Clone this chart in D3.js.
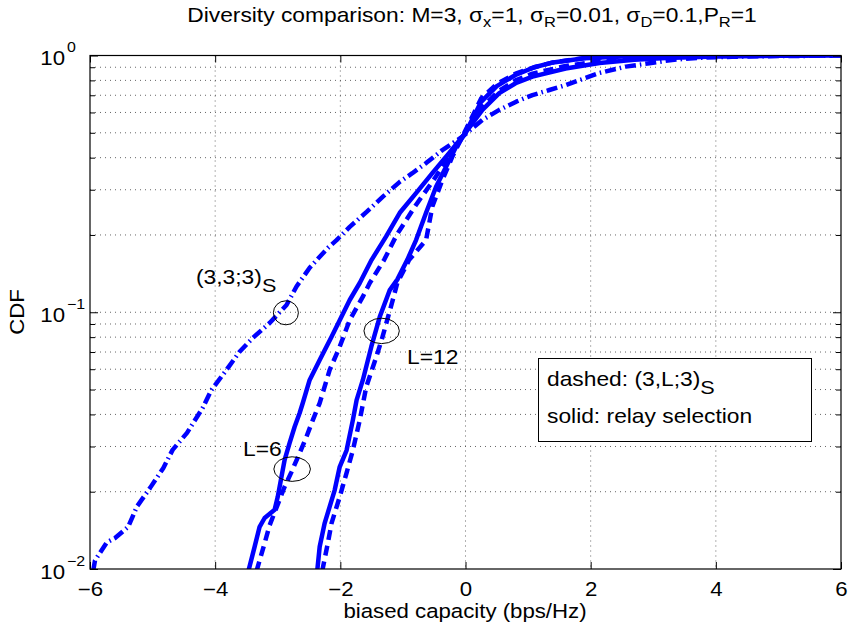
<!DOCTYPE html>
<html>
<head>
<meta charset="utf-8">
<script src="https://cdn.jsdelivr.net/npm/d3@7"></script>
<style>
  body { margin: 0; background: #fff; }
  svg { font-family: "Liberation Sans", Arial, Helvetica, sans-serif; }
</style>
</head>
<body>
<svg id="chart" width="851" height="630"></svg>
<script>
// ---- Data ----
const xTicks = [-6, -4, -2, 0, 2, 4, 6];
const yDecades = [0.01, 0.1, 1];
const yDecadeExp = ["\u22122", "\u22121", "0"];

// (3,3;3)_S  dash-dot
const s333X = [-5.95,-5.92,-5.73,-5.60,-5.39,-5.25,-5.04,-4.83,-4.68,-4.45,-4.20,-4.06,-3.82,-3.61,-3.40,-3.13,-2.86,-2.70,-2.49,-2.20,-2.06,-1.85,-1.58,-1.32,-1.05,-0.85,-0.63,-0.37,-0.05,0.27,0.54,0.81,1.07,1.34,1.61,1.87,2.14,2.56,2.94,3.30,3.73,4.26,5.0,5.86];
const s333Y = [0.0098,0.0108,0.0127,0.0132,0.0146,0.0175,0.0207,0.0247,0.0291,0.0339,0.0424,0.0498,0.0596,0.0702,0.0794,0.0908,0.1067,0.126,0.149,0.178,0.191,0.215,0.246,0.282,0.322,0.348,0.381,0.428,0.483,0.561,0.614,0.661,0.701,0.734,0.768,0.810,0.855,0.905,0.933,0.961,0.980,0.989,0.995,0.998];

// L=6 relay selection (solid)
const l6SolidX = [-3.47,-3.37,-3.29,-3.21,-3.05,-3.0,-2.94,-2.89,-2.81,-2.73,-2.65,-2.60,-2.49,-2.33,-2.14,-1.98,-1.85,-1.69,-1.5,-1.27,-1.05,-0.79,-0.53,-0.26,0.0,0.27,0.54,0.8,1.07,1.6,2.14,2.7,3.2,4.0,5.0,6.0];
const l6SolidY = [0.0098,0.0122,0.0146,0.0158,0.0170,0.0191,0.0229,0.0266,0.031,0.0358,0.0405,0.0443,0.0545,0.0652,0.0803,0.0962,0.1116,0.130,0.16,0.197,0.244,0.291,0.348,0.417,0.5,0.614,0.714,0.78,0.827,0.89,0.935,0.962,0.978,0.992,0.998,1.0];

// L=6 (3,L;3)_S (dashed)
const l6DashX = [-3.34,-3.21,-3.13,-2.89,-2.78,-2.65,-2.54,-2.44,-2.33,-2.17,-2.01,-1.85,-1.64,-1.53,-1.3,-1.1,-0.8,-0.5,-0.25,0.0,0.27,0.54,0.8,1.07,1.6,2.14,2.7,3.2,4.0,5.0,6.0];
const l6DashY = [0.0098,0.0126,0.0148,0.0209,0.0239,0.0283,0.0328,0.038,0.0443,0.0596,0.0734,0.0933,0.115,0.130,0.16,0.2,0.26,0.33,0.41,0.5,0.63,0.73,0.8,0.85,0.91,0.95,0.975,0.988,0.996,0.999,1.0];

// L=12 relay selection (solid)
const l12SolidX = [-2.37,-2.33,-2.25,-2.17,-2.09,-2.01,-1.90,-1.80,-1.74,-1.64,-1.505,-1.37,-1.21,-1.09,-0.93,-0.79,-0.63,-0.47,-0.31,-0.15,0.0,0.25,0.5,0.8,1.1,1.4,1.9,2.6,3.5,4.5];
const l12SolidY = [0.0098,0.0122,0.0151,0.0175,0.0203,0.025,0.029,0.038,0.0455,0.0545,0.0734,0.096,0.122,0.134,0.16,0.191,0.244,0.308,0.369,0.441,0.5,0.66,0.76,0.84,0.9,0.94,0.975,0.993,0.999,1.0];

// L=12 (3,L;3)_S (dashed)
const l12DashX = [-2.29,-2.20,-2.14,-2.01,-1.90,-1.80,-1.69,-1.585,-1.425,-1.325,-1.165,-1.09,-0.9,-0.63,-0.53,-0.37,-0.21,-0.05,0.25,0.5,0.8,1.1,1.4,1.9,2.7,3.5,4.5];
const l12DashY = [0.0098,0.0126,0.0151,0.0191,0.0237,0.029,0.038,0.0513,0.067,0.0803,0.111,0.130,0.16,0.191,0.258,0.327,0.404,0.483,0.68,0.775,0.85,0.9,0.94,0.978,0.995,0.999,1.0];

const series = [
  { x: s333X, y: s333Y, dash: "11,4,1.5,4" },
  { x: l6DashX, y: l6DashY, dash: "10,6" },
  { x: l12DashX, y: l12DashY, dash: "10,6" },
  { x: l6SolidX, y: l6SolidY, dash: null },
  { x: l12SolidX, y: l12SolidY, dash: null }
];

const ellipses = [
  { cx: -2.87, cy: 0.0995, rx: 12.5, ry: 12 },
  { cx: -1.34, cy: 0.0846, rx: 17.7, ry: 12.7 },
  { cx: -2.77, cy: 0.0245, rx: 18.3, ry: 12.3 }
];

// ---- Layout ----
const svg = d3.select("#chart");
const L = 90, R = 841, T = 55.5, B = 569;
const SX = 1.14; // horizontal stretch of the reference's lettering
const x = d3.scaleLinear().domain([-6, 6]).range([L, R]);
const y = d3.scaleLog().domain([0.01, 1]).range([B, T]);

const yMinor = [];
[0.01, 0.1].forEach(d => { for (let k = 2; k <= 9; k++) yMinor.push(d * k); });

function label(px, py, size, anchor, rotate) {
  const g = svg.append("g").attr("transform", `translate(${px},${py})` + (rotate ? ` rotate(${rotate})` : ""));
  return g.append("text").attr("transform", `scale(${SX},1)`).attr("text-anchor", anchor || "start")
    .attr("font-size", size).attr("fill", "#000");
}

// Grid
const grid = svg.append("g").attr("stroke", "#000").attr("stroke-width", 0.8)
  .attr("stroke-dasharray", "1,4").attr("opacity", 0.75);
xTicks.slice(1, -1).forEach(v => {
  grid.append("line").attr("x1", x(v)).attr("x2", x(v)).attr("y1", T).attr("y2", B);
});
yDecades.slice(1, -1).concat(yMinor).forEach(v => {
  grid.append("line").attr("x1", L).attr("x2", R).attr("y1", y(v)).attr("y2", y(v));
});

// Clip
svg.append("clipPath").attr("id", "clip").append("rect")
  .attr("x", L).attr("y", T).attr("width", R - L).attr("height", B - T);

const line = d3.line().x(d => x(d[0])).y(d => y(d[1]));
const curves = svg.append("g").attr("clip-path", "url(#clip)");
series.forEach(s => {
  const pts = s.x.map((v, i) => [v, s.y[i]]);
  curves.append("path").datum(pts).attr("d", line)
    .attr("fill", "none").attr("stroke", "#0000ff")
    .attr("stroke-width", 4.5)
    .attr("stroke-linejoin", "round")
    .attr("stroke-dasharray", s.dash);
});

// Axes box
svg.append("rect").attr("x", L).attr("y", T).attr("width", R - L).attr("height", B - T)
  .attr("fill", "none").attr("stroke", "#000").attr("stroke-width", 1.2);

// x ticks
const xAxisB = d3.axisBottom(x).tickValues(xTicks).tickSize(-7).tickPadding(13)
  .tickFormat(d => d < 0 ? "\u2212" + Math.abs(d) : d);
const gx = svg.append("g").attr("transform", `translate(0,${B})`).call(xAxisB);
gx.select(".domain").remove();
gx.selectAll("text").attr("font-size", 19.5).attr("fill", "#000")
  .attr("font-family", "Liberation Sans, Arial, sans-serif")
  .attr("transform", `scale(${SX},1)`);
const gxt = svg.append("g").attr("transform", `translate(0,${T})`)
  .call(d3.axisTop(x).tickValues(xTicks).tickSize(-7).tickFormat(""));
gxt.select(".domain").remove();

// y ticks left/right
[[L, d3.axisLeft], [R, d3.axisRight]].forEach(([px, ax]) => {
  const g1 = svg.append("g").attr("transform", `translate(${px},0)`)
    .call(ax(y).tickValues(yDecades).tickSize(-8).tickFormat(""));
  g1.select(".domain").remove();
  const g2 = svg.append("g").attr("transform", `translate(${px},0)`)
    .call(ax(y).tickValues(yMinor).tickSize(-5).tickFormat(""));
  g2.select(".domain").remove();
});
svg.selectAll(".tick line").attr("stroke", "#000").attr("stroke-width", 1);

// y tick labels 10^n
yDecades.forEach((v, i) => {
  label(65, y(v) + 9.5, 19.5, "end").text("10");
  label(67, y(v) - 3.5, 14, "start").text(yDecadeExp[i]);
});

// Title
const title = label(472, 22, 20, "middle");
title.append("tspan").text("Diversity comparison: M=3, \u03c3");
title.append("tspan").attr("dy", 5).attr("font-size", 14.5).text("x");
title.append("tspan").attr("dy", -5).text("=1, \u03c3");
title.append("tspan").attr("dy", 5).attr("font-size", 14.5).text("R");
title.append("tspan").attr("dy", -5).text("=0.01, \u03c3");
title.append("tspan").attr("dy", 5).attr("font-size", 14.5).text("D");
title.append("tspan").attr("dy", -5).text("=0.1,P");
title.append("tspan").attr("dy", 5).attr("font-size", 14.5).text("R");
title.append("tspan").attr("dy", -5).text("=1");

// Axis labels
label(465, 618, 19.5, "middle").text("biased capacity (bps/Hz)");
label(24, 312, 19.5, "middle", -90).text("CDF");

// Ellipses
ellipses.forEach(e => {
  svg.append("ellipse").attr("cx", x(e.cx)).attr("cy", y(e.cy)).attr("rx", e.rx).attr("ry", e.ry)
    .attr("fill", "none").attr("stroke", "#000").attr("stroke-width", 1);
});

// Annotation labels
const a1 = label(196, 284, 20, "start");
a1.append("tspan").text("(3,3;3)");
a1.append("tspan").attr("dy", 8).attr("font-size", 19).text("S");
label(407, 364, 20, "start").text("L=12");
label(243, 456, 20, "start").text("L=6");

// Legend box
svg.append("rect").attr("x", 538.5).attr("y", 358.5).attr("width", 273).attr("height", 83)
  .attr("fill", "#fff").attr("stroke", "#000").attr("stroke-width", 1);
const lg1 = label(547, 386, 20, "start");
lg1.append("tspan").text("dashed: (3,L;3)");
lg1.append("tspan").attr("dy", 8).attr("font-size", 19).text("S");
label(547, 423, 20, "start").text("solid: relay selection");
</script>
</body>
</html>
